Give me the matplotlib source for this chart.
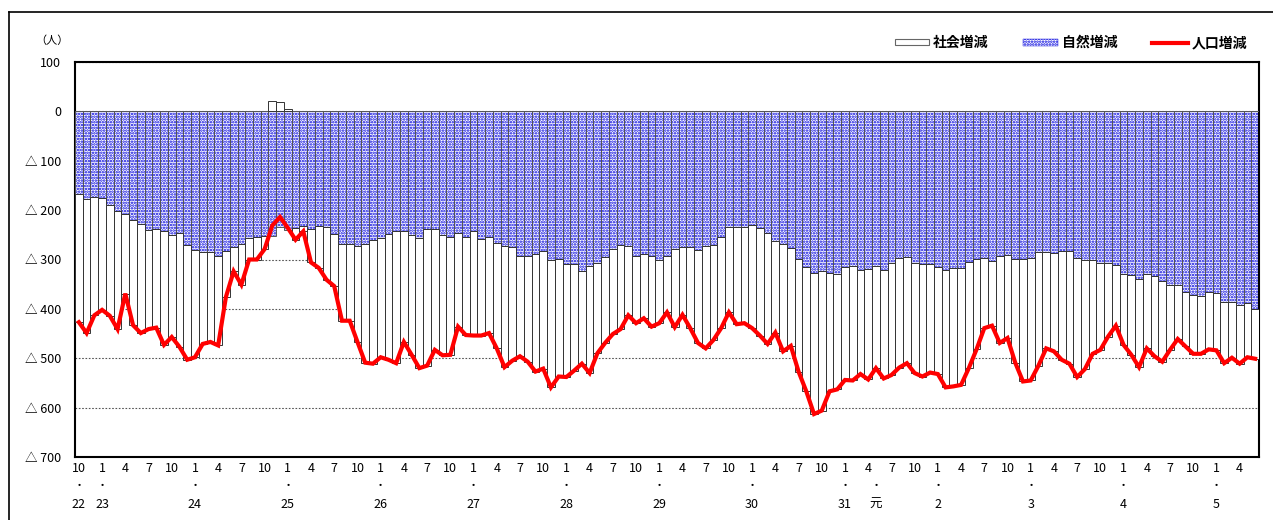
import numpy as np
import matplotlib
matplotlib.use("Agg")
import matplotlib.pyplot as plt
from matplotlib.patches import Rectangle
from matplotlib.lines import Line2D
import matplotlib.transforms as mtrans

plt.rcParams['font.family'] = ['Noto Sans CJK JP', 'DejaVu Sans']
plt.rcParams['hatch.linewidth'] = 1.2

# ---- data (monthly, 2010-10 (H22.10) .. 2023-06 (R5.6)) ----
natural = [-167, -177, -173, -176, -189, -202, -208, -221, -228, -240,
           -239, -242, -250, -246, -270, -281, -285, -285, -292, -282,
           -275, -268, -256, -254, -252, -252, -234, -241, -236, -233,
           -239, -233, -235, -248, -269, -269, -273, -268, -260, -256,
           -248, -243, -243, -251, -256, -238, -238, -251, -254, -246,
           -254, -243, -258, -254, -267, -272, -275, -292, -292, -288,
           -283, -300, -298, -310, -310, -323, -314, -307, -294, -279,
           -270, -272, -292, -288, -292, -300, -292, -279, -275, -275,
           -280, -273, -271, -254, -234, -234, -235, -231, -237, -246,
           -262, -269, -276, -299, -315, -327, -324, -327, -329, -316,
           -314, -321, -319, -314, -321, -308, -297, -295, -307, -310,
           -310, -315, -321, -317, -317, -305, -299, -297, -303, -292,
           -291, -299, -299, -297, -285, -285, -287, -282, -282, -297,
           -300, -302, -308, -308, -312, -329, -332, -340, -329, -334,
           -344, -351, -351, -365, -371, -373, -366, -368, -386, -386,
           -393, -388, -400]

total = [-427, -449, -413, -402, -414, -441, -369, -433, -449, -441,
         -438, -473, -457, -477, -503, -498, -471, -467, -474, -376,
         -324, -351, -300, -300, -279, -231, -214, -236, -260, -243,
         -306, -317, -341, -354, -424, -424, -467, -509, -511, -498,
         -503, -510, -467, -493, -520, -515, -483, -494, -493, -436,
         -453, -454, -454, -449, -480, -518, -505, -496, -507, -527,
         -521, -559, -537, -538, -525, -511, -530, -490, -469, -451,
         -441, -413, -429, -419, -436, -429, -407, -437, -412, -439,
         -469, -480, -463, -439, -407, -431, -429, -439, -454, -471,
         -448, -486, -475, -527, -567, -613, -606, -567, -563, -544,
         -545, -532, -543, -520, -541, -534, -519, -510, -530, -537,
         -529, -532, -559, -557, -554, -520, -482, -439, -434, -469,
         -459, -509, -547, -545, -515, -480, -486, -503, -511, -538,
         -522, -491, -483, -456, -434, -473, -493, -518, -480, -496,
         -507, -483, -461, -476, -491, -491, -482, -484, -510, -499,
         -511, -498, -501]

start_month = 10
year_labels = ['22', '23', '24', '25', '26', '27', '28', '29', '30', '31', '元', '2', '3', '4', '5']
year_pos = [0, 3, 15, 27, 39, 51, 63, 75, 87, 99, 103, 111, 123, 135, 147]
ytick_vals = [100, 0, -100, -200, -300, -400, -500, -600, -700]
legend_labels = ['社会増減', '自然増減', '人口増減']

# ---- figure ----
W, H = 1273, 520
fig = plt.figure(figsize=(W / 100, H / 100), dpi=100)

def fx(px):
    return px / W

def fy(py):
    return 1 - py / H

ax = fig.add_axes([fx(75), fy(457), fx(1259) - fx(75), fy(62) - fy(457)])

n = len(natural)
x = np.arange(n)
nat = np.array(natural, dtype=float)
tot = np.array(total, dtype=float)
social = tot - nat
soc_bottom = np.where(social < 0, nat, 0.0)

HATCH_COLOR = '#0000dd'
ax.set_axisbelow(True)
# natural (hatched blue dots)
ax.bar(x, nat, width=1.0, color='white', edgecolor=HATCH_COLOR, hatch='......',
       linewidth=0, zorder=2)
ax.bar(x, nat, width=1.0, fill=False, edgecolor='#555555', linewidth=0.7, zorder=3)
# social (white)
ax.bar(x, social, bottom=soc_bottom, width=1.0, color='white',
       edgecolor='#333333', linewidth=0.7, zorder=3)
# total line
ax.plot(x, tot, color='#ff0000', linewidth=3.0, zorder=5, solid_joinstyle='miter')

ax.set_xlim(-0.5, n - 0.5)
ax.set_ylim(-700, 100)
ax.set_yticks(ytick_vals)
ax.set_yticklabels([('△ %d' % -v) if v < 0 else str(v) for v in ytick_vals], fontsize=9)
ax.tick_params(axis='y', length=0, pad=10)
ax.set_xticks([])
ax.yaxis.grid(True, linestyle=(0, (1.5, 1.5)), color='#555555', linewidth=0.8)
for s in ax.spines.values():
    s.set_linewidth(1.5)
    s.set_color('#000000')

# x labels: month numbers, dots, years
tr = mtrans.blended_transform_factory(ax.transData, fig.transFigure)
for i in range(0, n, 3):
    m = (start_month - 1 + i) % 12 + 1
    ax.text(i, fy(469), str(m), transform=tr, ha='center', va='center', fontsize=9)
for lab, p in zip(year_labels, year_pos):
    ax.text(p, fy(486), '・', transform=tr, ha='center', va='center', fontsize=8)
    ax.text(p, fy(504), lab, transform=tr, ha='center', va='center', fontsize=9)

# unit label
fig.text(fx(52), fy(41), '（人）', ha='center', va='center', fontsize=8)

# legend (manual)
fig.add_artist(Rectangle((fx(895), fy(45)), fx(929) - fx(895), fy(39) - fy(45),
                         facecolor='white', edgecolor='#666666', linewidth=0.8))
fig.text(fx(933), fy(43), legend_labels[0], ha='left', va='center', fontsize=10, fontweight='bold')
fig.add_artist(Rectangle((fx(1023), fy(46)), fx(1058) - fx(1023), fy(39) - fy(46),
                         facecolor='white', edgecolor=HATCH_COLOR, hatch='......', linewidth=0.3))
fig.text(fx(1062), fy(43), legend_labels[1], ha='left', va='center', fontsize=10, fontweight='bold')
fig.add_artist(Line2D([fx(1152), fx(1188)], [fy(43), fy(43)], color='#ff0000', linewidth=3.0))
fig.text(fx(1192), fy(43), legend_labels[2], ha='left', va='center', fontsize=10, fontweight='bold')

# outer frame (left and top)
fig.add_artist(Line2D([fx(9), fx(9)], [fy(12), 0], color='black', linewidth=1.2))
fig.add_artist(Line2D([fx(9), 1], [fy(12), fy(12)], color='black', linewidth=1.2))

fig.savefig('out.png', dpi=100)
